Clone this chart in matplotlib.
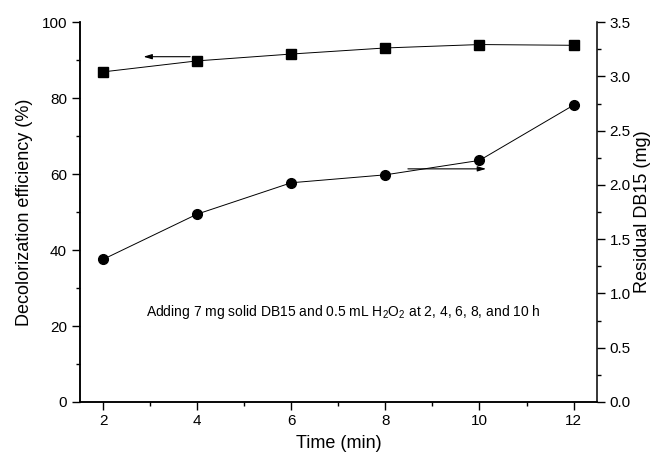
import matplotlib
matplotlib.use("Agg")
import matplotlib.pyplot as plt
from matplotlib.ticker import MultipleLocator

plt.rcParams['font.family'] = ['Liberation Sans', 'DejaVu Sans']
plt.rcParams['mathtext.fontset'] = 'custom'
plt.rcParams['mathtext.rm'] = 'Liberation Sans'

# data
time = [2, 4, 6, 8, 10, 12]
efficiency = [86.9, 89.8, 91.6, 93.2, 94.1, 93.9]
residual = [1.314, 1.731, 2.02, 2.093, 2.226, 2.735]

fig = plt.figure(figsize=(6.54, 4.61), dpi=100)
ax = fig.add_axes([0.1216, 0.128, 0.7914, 0.824])
ax2 = ax.twinx()

ax.plot(time, efficiency, color='black', lw=0.7, marker='s', ms=6.5, mfc='black', mec='black')
ax2.plot(time, residual, color='black', lw=0.7, marker='o', ms=7, mfc='black', mec='black')

ax.set_xlim(1.5, 12.5)
ax.set_ylim(0, 100)
ax2.set_ylim(0, 3.5)

ax.xaxis.set_major_locator(MultipleLocator(2))
ax.xaxis.set_minor_locator(MultipleLocator(1))
ax.yaxis.set_major_locator(MultipleLocator(20))
ax.yaxis.set_minor_locator(MultipleLocator(10))
ax2.yaxis.set_major_locator(MultipleLocator(0.5))
ax2.yaxis.set_minor_locator(MultipleLocator(0.25))
ax2.yaxis.set_major_formatter(matplotlib.ticker.FormatStrFormatter('%.1f'))

for a in (ax, ax2):
    a.spines['top'].set_visible(False)
    for s in a.spines.values():
        s.set_linewidth(1.1)
    a.tick_params(which='major', direction='out', length=5.5, width=1.0, labelsize=11)
    a.tick_params(which='minor', direction='out', length=3, width=1.0)
ax.spines['right'].set_visible(False)

ax.set_xlabel('Time (min)', fontsize=13, labelpad=5)
ax.set_ylabel('Decolorization efficiency (%)', fontsize=13, labelpad=6)
ax2.set_ylabel('Residual DB15 (mg)', fontsize=13, labelpad=2)

# arrows pointing to each axis
ax.annotate('', xy=(2.8, 90.9), xytext=(3.91, 90.9),
            arrowprops=dict(arrowstyle='-|>,head_length=0.5,head_width=0.15', color='black', lw=0.8, mutation_scale=10))
ax2.annotate('', xy=(10.2, 2.148), xytext=(8.42, 2.148),
             arrowprops=dict(arrowstyle='-|>,head_length=0.5,head_width=0.15', color='black', lw=0.8, mutation_scale=10))

ax.text(2.91, 23.8, 'Adding 7 mg solid DB15 and 0.5 mL H$_2$O$_2$ at 2, 4, 6, 8, and 10 h',
        fontsize=10, va='center', ha='left')

fig.savefig('out.png', dpi=100)
